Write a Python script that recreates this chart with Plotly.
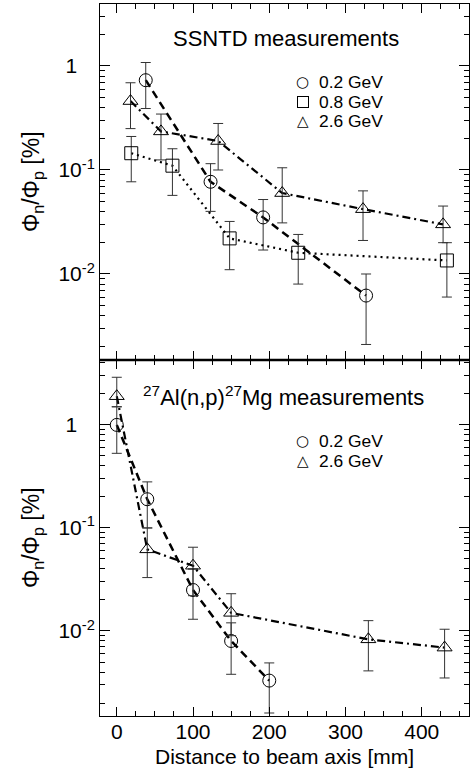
import plotly.graph_objects as go

# ---------------- data ----------------
# SSNTD measurements (top panel)
ss02_x = [38, 123, 192, 327]
ss02_y = [0.73, 0.077, 0.035, 0.0062]
ss02_hi = [1.08, 0.115, 0.052, 0.0100]
ss02_lo = [0.39, 0.040, 0.017, 0.0021]

ss08_x = [19, 73, 148, 238, 433]
ss08_y = [0.145, 0.11, 0.022, 0.016, 0.0135]
ss08_hi = [0.21, 0.16, 0.032, 0.024, 0.020]
ss08_lo = [0.077, 0.057, 0.011, 0.0080, 0.0060]

ss26_x = [18, 58, 133, 217, 323, 428]
ss26_y = [0.46, 0.235, 0.19, 0.060, 0.042, 0.030]
ss26_hi = [0.69, 0.345, 0.28, 0.105, 0.063, 0.045]
ss26_lo = [0.25, 0.125, 0.10, 0.031, 0.021, 0.020]

# 27Al(n,p)27Mg measurements (bottom panel)
al02_x = [0, 40, 100, 150, 200]
al02_y = [1.0, 0.19, 0.025, 0.008, 0.0033]
al02_hi = [1.5, 0.28, 0.040, 0.012, 0.0049]
al02_lo = [0.53, 0.10, 0.013, 0.0038, 0.0016]

al26_x = [0, 40, 100, 150, 330, 430]
al26_y = [1.9, 0.062, 0.043, 0.015, 0.0083, 0.0069]
al26_hi = [2.9, 0.10, 0.065, 0.023, 0.0126, 0.0104]
al26_lo = [1.5, 0.033, 0.022, 0.009, 0.0041, 0.0035]

top_names = ["0.2 GeV", "0.8 GeV", "2.6 GeV"]
top_glyphs = ["○", "box", "△"]
bot_names = ["0.2 GeV", "2.6 GeV"]
bot_glyphs = ["○", "△"]

y_tickvals = [0.01, 0.1, 1]
y_ticktext = ["10<sup>-2</sup>", "10<sup>-1</sup>", "1&nbsp;&nbsp;&nbsp;"]
x_tickvals = [0, 100, 200, 300, 400]

FONT = "Liberation Sans, Arial, Helvetica, sans-serif"


def err(y, hi, lo):
    return dict(type="data", symmetric=False,
                array=[h - v for h, v in zip(hi, y)],
                arrayminus=[v - l for l, v in zip(lo, y)],
                color="#333", thickness=1, width=5)


fig = go.Figure()


def add_series(x, y, hi, lo, name, symbol, dash, width, xa, ya):
    fig.add_trace(go.Scatter(x=x, y=y, mode="lines", xaxis=xa, yaxis=ya,
                             line=dict(color="black", dash=dash, width=width),
                             showlegend=False, hoverinfo="skip"))
    fig.add_trace(go.Scatter(x=x, y=y, mode="markers", name=name, xaxis=xa, yaxis=ya,
                             marker=dict(symbol=symbol, size=13, color="black",
                                         line=dict(width=1, color="black")),
                             error_y=err(y, hi, lo), showlegend=False))


DASH = "8px,5px"
DOT = "2px,4px"
DASHDOT = "8px,4px,2px,4px"

add_series(ss02_x, ss02_y, ss02_hi, ss02_lo, top_names[0], "circle-open", DASH, 2.5, "x", "y")
add_series(ss08_x, ss08_y, ss08_hi, ss08_lo, top_names[1], "square-open", DOT, 2.2, "x", "y")
add_series(ss26_x, ss26_y, ss26_hi, ss26_lo, top_names[2], "triangle-up-open", DASHDOT, 2.2, "x", "y")

add_series(al02_x, al02_y, al02_hi, al02_lo, bot_names[0], "circle-open", DASH, 2.5, "x2", "y2")
add_series(al26_x, al26_y, al26_hi, al26_lo, bot_names[1], "triangle-up-open", DASHDOT, 2.2, "x2", "y2")

minor_y = [k * 10 ** e for e in range(-3, 1) for k in range(2, 10)]

TICKFONT = dict(size=21, color="black", family=FONT)
xcommon = dict(range=[-22, 462], tickvals=x_tickvals, ticks="inside", ticklen=9,
               tickwidth=1, tickcolor="black", showline=True, linecolor="black",
               linewidth=1, mirror="allticks", showgrid=False, zeroline=False,
               minor=dict(dtick=25, tick0=0, ticks="inside", ticklen=5, tickcolor="black", showgrid=False),
               tickfont=TICKFONT)
ycommon = dict(type="log", tickvals=y_tickvals, ticktext=y_ticktext, ticks="inside",
               ticklen=10, tickwidth=1, tickcolor="black", showline=True, linecolor="black",
               linewidth=1, mirror="allticks", showgrid=False, zeroline=False,
               minor=dict(tickvals=minor_y, ticks="inside", ticklen=5, tickcolor="black", showgrid=False),
               tickfont=TICKFONT)

YTITLE = "Φ<sub>n</sub>/Φ<sub>p</sub> [%]"
annotations = [
    dict(text="SSNTD measurements", xref="paper", yref="paper", x=0.504, y=0.952,
         xanchor="center", yanchor="middle", showarrow=False,
         font=dict(size=22, family=FONT, color="black")),
    dict(text="<sup>27</sup>Al(n,p)<sup>27</sup>Mg measurements", xref="paper", yref="paper",
         x=0.497, y=0.449, xanchor="center", yanchor="middle", showarrow=False,
         font=dict(size=22, family=FONT, color="black")),
    dict(text="Distance to beam axis [mm]", xref="paper", yref="paper", x=0.5, y=0,
         xanchor="center", yshift=-27, yanchor="top", showarrow=False,
         font=dict(size=21, family=FONT, color="black")),
    dict(text=YTITLE, xref="paper", yref="paper", x=-0.184, y=0.75, textangle=-90,
         xanchor="center", yanchor="middle", showarrow=False,
         font=dict(size=23, family=FONT, color="black")),
    dict(text=YTITLE, xref="paper", yref="paper", x=-0.184, y=0.25, textangle=-90,
         xanchor="center", yanchor="middle", showarrow=False,
         font=dict(size=23, family=FONT, color="black")),
]

LEG_FONT = dict(size=17.4, family=FONT, color="black")
SYM_FONT = dict(size=15, family="DejaVu Sans", color="black")
STEP = 19.5 / 712


def add_legend(names, glyphs, ytop):
    for i, (n, g) in enumerate(zip(names, glyphs)):
        yy = ytop - i * STEP
        if g == "box":
            annotations.append(dict(text=" ", xref="paper", yref="paper", x=0.550, y=yy,
                                    xanchor="center", yanchor="middle", width=10, height=10,
                                    borderpad=0, borderwidth=1, bordercolor="black",
                                    showarrow=False, font=dict(size=4)))
        else:
            annotations.append(dict(text=g, xref="paper", yref="paper", x=0.550, y=yy,
                                    xanchor="center", yanchor="middle",
                                    showarrow=False, font=SYM_FONT))
        annotations.append(dict(text=n, xref="paper", yref="paper", x=0.589, y=yy,
                                xanchor="left", yanchor="middle",
                                showarrow=False, font=LEG_FONT))


add_legend(top_names, top_glyphs, 0.8904)
add_legend(bot_names, bot_glyphs, 0.3862)

fig.update_layout(
    width=471, height=775,
    margin=dict(l=100, r=2, t=4, b=59),
    paper_bgcolor="white", plot_bgcolor="white",
    font=dict(family=FONT, color="black"),
    xaxis=dict(xcommon, domain=[0, 1], anchor="y", showticklabels=False),
    yaxis=dict(ycommon, domain=[0.5, 1], anchor="x", range=[-2.827, 0.596]),
    xaxis2=dict(xcommon, domain=[0, 1], anchor="y2", matches="x", ticklabelstandoff=-3),
    yaxis2=dict(ycommon, domain=[0, 0.5], anchor="x2", range=[-2.825, 0.63]),
    showlegend=False,
    annotations=annotations,
    shapes=[dict(type="line", xref="paper", yref="paper", x0=0, x1=1, y0=0.5, y1=0.5,
                 line=dict(color="black", width=2.5))],
)

fig.write_html("out.html", config={"displayModeBar": False},
               post_script="document.body.style.margin='0';document.body.style.overflow='hidden';")
